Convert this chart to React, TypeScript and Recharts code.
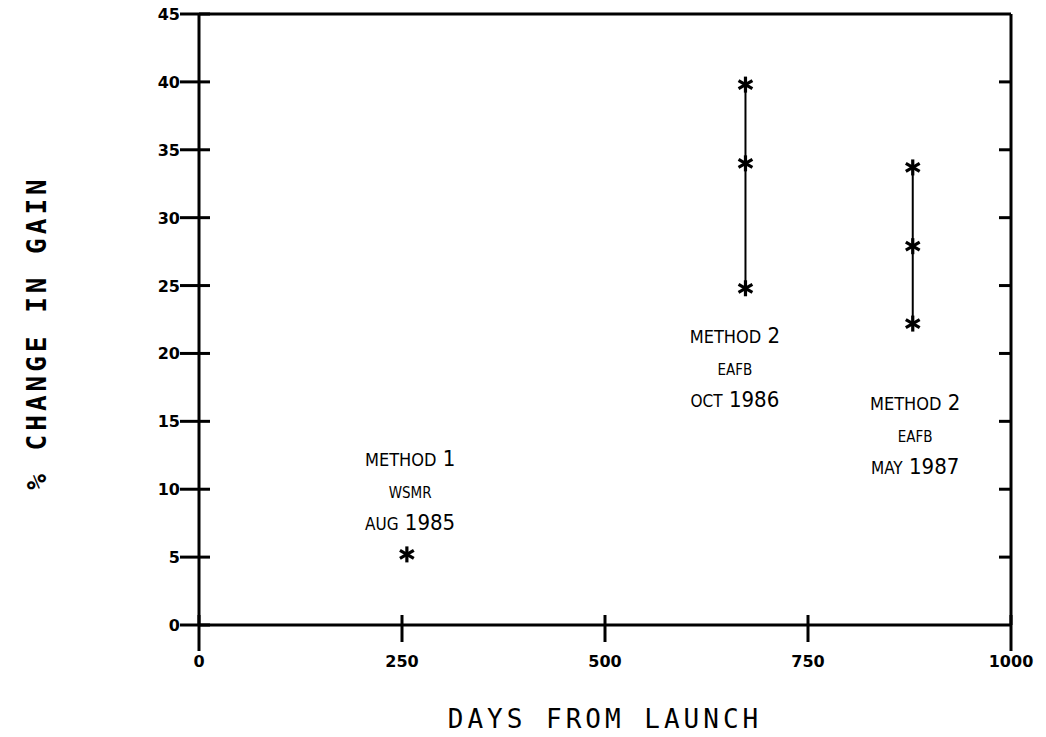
import { ScatterChart, Scatter, XAxis, YAxis, ReferenceDot } from "recharts";

const xTicks = [0, 250, 500, 750, 1000];
const yTicks = [0, 5, 10, 15, 20, 25, 30, 35, 40, 45];
const rightTicks = [5, 10, 15, 20, 25, 30, 35, 40];

// days from launch / % change in gain
const method1Days = [256];
const method1Gain = [5.2];
const oct1986Days = [673, 673, 673];
const oct1986Gain = [39.8, 34.0, 24.8];
const may1987Days = [879, 879, 879];
const may1987Gain = [33.7, 27.9, 22.2];

// annotation anchors (data coords) and text
const noteDays = [260, 660, 882];
const noteGain = [11.7, 20.8, 15.8];
const noteLines = [
  [["METHOD", "1"], ["WSMR", ""], ["AUG", "1985"]],
  [["METHOD", "2"], ["EAFB", ""], ["OCT", "1986"]],
  [["METHOD", "2"], ["EAFB", ""], ["MAY", "1987"]],
];

const zip = (days: number[], gain: number[]) =>
  days.map((d, i) => ({ day: d, gain: gain[i] }));

const method1 = zip(method1Days, method1Gain);
const oct1986 = zip(oct1986Days, oct1986Gain);
const may1987 = zip(may1987Days, may1987Gain);

const tickFont = "'DejaVu Sans', sans-serif";
const noteFont = "'Liberation Sans Narrow', 'DejaVu Sans Condensed', 'Liberation Sans', sans-serif";
const labelFont = "'DejaVu Sans Mono', monospace";

const Star = (props: any) => {
  const { cx, cy } = props;
  const r = 8;
  const a = r * Math.cos(Math.PI / 6);
  const b = r * Math.sin(Math.PI / 6);
  return (
    <g stroke="#000" strokeWidth={3.2} strokeLinecap="butt">
      <line x1={cx} y1={cy - r} x2={cx} y2={cy + r} />
      <line x1={cx - a} y1={cy - b} x2={cx + a} y2={cy + b} />
      <line x1={cx - a} y1={cy + b} x2={cx + a} y2={cy - b} />
    </g>
  );
};

const LeftTick = (props: any) => {
  const { x, y, payload } = props;
  return (
    <g>
      <line x1={x - 19} y1={y} x2={x + 11} y2={y} stroke="#000" strokeWidth={3} />
      <text x={x - 19} y={y + 6} textAnchor="end" fontFamily={tickFont} fontWeight="bold" fontSize={16} fill="#000">
        {payload.value}
      </text>
    </g>
  );
};

const RightTick = (props: any) => {
  const { x, y } = props;
  return <line x1={x - 12} y1={y} x2={x} y2={y} stroke="#000" strokeWidth={3} />;
};

const BottomTick = (props: any) => {
  const { x, y, payload } = props;
  const edge = payload.value === 0 || payload.value === 1000;
  return (
    <g>
      <line x1={x} y1={y - 10} x2={x} y2={y + (edge ? 26 : 17)} stroke="#000" strokeWidth={3} />
      <text x={x} y={y + 42} textAnchor="middle" fontFamily={tickFont} fontWeight="bold" fontSize={16} fill="#000">
        {payload.value}
      </text>
    </g>
  );
};

const noteSizes = [
  [18, 22],
  [15, 15],
  [17, 22],
];

const makeNote = (idx: number) => (props: any) => {
  const { cx, cy } = props;
  const lines = noteLines[idx];
  return (
    <g>
      {lines.map((ln, i) => (
        <text key={i} x={cx} y={cy + i * 32} textAnchor="middle" fontFamily={noteFont} fill="#000">
          <tspan fontSize={noteSizes[i][0]}>{ln[0]}</tspan>
          {ln[1] ? <tspan fontSize={noteSizes[i][1]}>{" " + ln[1]}</tspan> : null}
        </text>
      ))}
    </g>
  );
};

export default function App() {
  return (
    <div style={{ position: "absolute", left: 0, top: 0, background: "#fff" }}>
      <ScatterChart width={1046} height={737} margin={{ top: 13, right: 25, left: 139, bottom: 82 }}>
        <XAxis
          type="number"
          dataKey="day"
          domain={[0, 1000]}
          ticks={xTicks}
          height={30}
          tickSize={0}
          tickMargin={0}
          tickLine={false}
          axisLine={{ stroke: "#000", strokeWidth: 3 }}
          tick={<BottomTick />}
          label={{
            content: (p: any) => {
              const vb = p.viewBox;
              return (
                <text x={vb.x + vb.width / 2} y={vb.y + 103} textAnchor="middle" fontFamily={labelFont} fontSize={26} letterSpacing={4} fill="#000">
                  DAYS FROM LAUNCH
                </text>
              );
            },
          }}
        />
        <XAxis
          xAxisId="top"
          orientation="top"
          type="number"
          dataKey="day"
          domain={[0, 1000]}
          height={1}
          tick={false}
          tickLine={false}
          axisLine={{ stroke: "#000", strokeWidth: 3 }}
        />
        <YAxis
          type="number"
          dataKey="gain"
          domain={[0, 45]}
          ticks={yTicks}
          width={60}
          tickSize={0}
          tickMargin={0}
          tickLine={false}
          axisLine={{ stroke: "#000", strokeWidth: 3 }}
          tick={<LeftTick />}
          label={{
            content: (p: any) => {
              const vb = p.viewBox;
              const cx = 37;
              const cy = vb.y + vb.height / 2 + 13;
              return (
                <text x={cx} y={cy} transform={`rotate(-90 ${cx} ${cy})`} textAnchor="middle" dominantBaseline="central" fontFamily={labelFont} fontWeight="bold" fontSize={26} letterSpacing={4} fill="#000">
                  % CHANGE IN GAIN
                </text>
              );
            },
          }}
        />
        <YAxis
          yAxisId="right"
          orientation="right"
          type="number"
          dataKey="gain"
          domain={[0, 45]}
          ticks={rightTicks}
          width={10}
          tickSize={0}
          tickMargin={0}
          tickLine={false}
          axisLine={{ stroke: "#000", strokeWidth: 3 }}
          tick={<RightTick />}
        />
        <Scatter data={method1} shape={<Star />} isAnimationActive={false} />
        <Scatter data={oct1986} line={{ stroke: "#000", strokeWidth: 2 }} shape={<Star />} isAnimationActive={false} />
        <Scatter
          data={may1987}
          xAxisId="top"
          yAxisId="right"
          line={{ stroke: "#000", strokeWidth: 2 }}
          shape={<Star />}
          isAnimationActive={false}
        />
        {noteDays.map((d, i) => (
          <ReferenceDot key={i} x={d} y={noteGain[i]} r={0} ifOverflow="visible" shape={makeNote(i)} />
        ))}
      </ScatterChart>
    </div>
  );
}
